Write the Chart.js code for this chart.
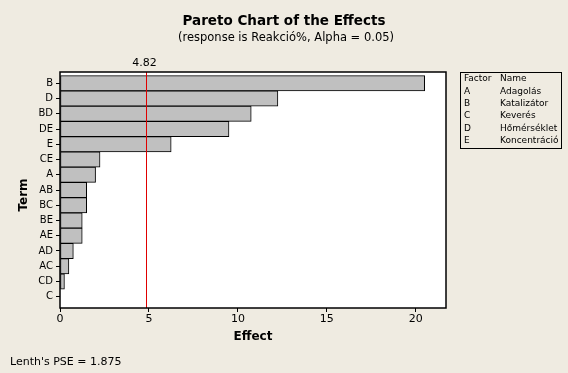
<!DOCTYPE html>
<html>
<head>
<meta charset="utf-8">
<script src="https://cdn.jsdelivr.net/npm/chart.js@4"></script>
<style>
  html, body { margin: 0; padding: 0; background: #EFEBE1; }
  .chart-box { width: 568px; height: 373px; position: relative; }
</style>
</head>
<body>
<div class="chart-box"><canvas id="paretoChart"></canvas></div>
<script>
// data
const terms = ['B', 'D', 'BD', 'DE', 'E', 'CE', 'A', 'AB', 'BC', 'BE', 'AE', 'AD', 'AC', 'CD', 'C'];
const effects = [20.5, 12.25, 10.75, 9.5, 6.25, 2.25, 2.0, 1.5, 1.5, 1.25, 1.25, 0.75, 0.5, 0.25, 0.0];
const xTicks = [0, 5, 10, 15, 20];
const refValue = 4.82;
const factorCodes = ['A', 'B', 'C', 'D', 'E'];
const factorNames = ['Adagolás', 'Katalizátor', 'Keverés', 'Hőmérséklet', 'Koncentráció'];
const lenthPSE = 1.875;

const bgColor = '#EFEBE1';
const fontFam = "'DejaVu Sans', sans-serif";

Chart.defaults.font.family = fontFam;
Chart.defaults.color = '#000';

const decorPlugin = {
    id: 'decor',
    beforeDraw(chart) {
        const ctx = chart.ctx;
        const a = chart.chartArea;
        ctx.save();
        ctx.fillStyle = bgColor;
        ctx.fillRect(0, 0, chart.width, chart.height);
        ctx.fillStyle = '#fff';
        ctx.fillRect(a.left, a.top, a.right - a.left, a.bottom - a.top);
        ctx.restore();
    },
    afterDatasetsDraw(chart) {
        const ctx = chart.ctx;
        const a = chart.chartArea;
        const xs = chart.scales.x;
        const rx = Math.round(xs.getPixelForValue(refValue)) + 0.5;
        ctx.save();
        // reference line
        ctx.strokeStyle = '#E00000';
        ctx.lineWidth = 1;
        ctx.beginPath();
        ctx.moveTo(rx, a.top);
        ctx.lineTo(rx, a.bottom);
        ctx.stroke();
        // plot frame
        ctx.strokeStyle = '#000';
        ctx.lineWidth = 1.5;
        ctx.strokeRect(a.left, a.top, a.right - a.left, a.bottom - a.top);

        ctx.fillStyle = '#000';
        ctx.textAlign = 'center';
        ctx.textBaseline = 'middle';
        ctx.font = '11px ' + fontFam;
        ctx.fillText(refValue.toFixed(2), rx - 2, 63);

        // titles
        ctx.font = 'bold 13.5px ' + fontFam;
        ctx.fillText('Pareto Chart of the Effects', 284, 21);
        ctx.font = '11.5px ' + fontFam;
        ctx.fillText('(response is Reakció%, Alpha = 0.05)', 286, 38);

        // axis titles
        ctx.font = 'bold 12px ' + fontFam;
        ctx.fillText('Effect', (a.left + a.right) / 2, 337);
        ctx.save();
        ctx.translate(24, 195);
        ctx.rotate(-Math.PI / 2);
        ctx.fillText('Term', 0, 0);
        ctx.restore();

        ctx.textAlign = 'left';
        ctx.font = '11px ' + fontFam;
        ctx.fillText("Lenth's PSE = " + lenthPSE, 10, 362);

        // factor table
        ctx.lineWidth = 1;
        ctx.strokeRect(460.5, 72.5, 101, 76);
        ctx.font = '9px ' + fontFam;
        ctx.fillText('Factor', 464, 78.5);
        ctx.fillText('Name', 500, 78.5);
        factorCodes.forEach((c, i) => {
            const y = 91.5 + i * 12.3;
            ctx.fillText(c, 464, y);
            ctx.fillText(factorNames[i], 500, y);
        });
        ctx.restore();
    }
};

const ctx = document.getElementById('paretoChart');
new Chart(ctx, {
    type: 'bar',
    data: {
        datasets: [{
            data: terms.map((t, i) => ({ x: effects[i], y: i })),
            backgroundColor: '#C0C0C0',
            borderColor: '#000',
            borderWidth: 1,
            borderSkipped: false,
            barPercentage: 1,
            categoryPercentage: 1
        }]
    },
    options: {
        indexAxis: 'y',
        responsive: true,
        maintainAspectRatio: false,
        animation: false,
        layout: { padding: { top: 72, right: 122, left: 0, bottom: 0 } },
        plugins: {
            legend: { display: false },
            tooltip: { enabled: false }
        },
        scales: {
            x: {
                type: 'linear',
                min: 0,
                max: 21.7,
                afterBuildTicks: (scale) => { scale.ticks = xTicks.map(v => ({ value: v })); },
                afterFit: (scale) => { scale.height = 65; },
                grid: { drawOnChartArea: false, drawTicks: true, tickLength: 4, color: '#000' },
                border: { display: false },
                ticks: { font: { size: 11 }, padding: 1, color: '#000', maxRotation: 0 }
            },
            y: {
                type: 'linear',
                reverse: true,
                offset: false,
                min: -0.74,
                max: 14.74,
                afterBuildTicks: (scale) => { scale.ticks = terms.map((t, i) => ({ value: i })); },
                afterFit: (scale) => { scale.width = 60; },
                grid: { offset: false, drawOnChartArea: false, drawTicks: true, tickLength: 4, color: '#000' },
                border: { display: false },
                ticks: {
                    font: { size: 10 },
                    padding: 3,
                    color: '#000',
                    callback: (v) => terms[v]
                }
            }
        }
    },
    plugins: [decorPlugin]
});
</script>
</body>
</html>
